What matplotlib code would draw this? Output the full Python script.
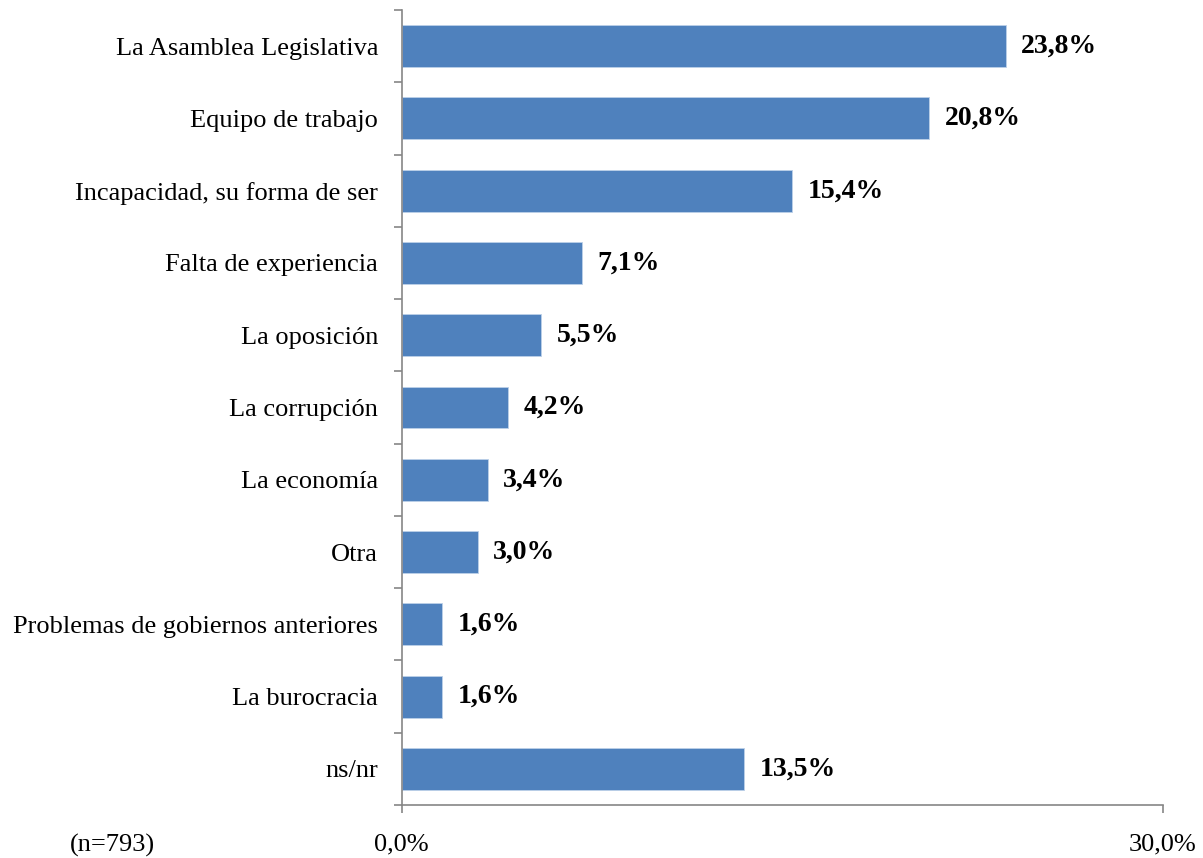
import matplotlib.pyplot as plt
import numpy as np

plt.rcParams["font.family"] = ["Liberation Serif", "DejaVu Serif"]

categories = [
    "La Asamblea Legislativa",
    "Equipo de trabajo",
    "Incapacidad, su forma de ser",
    "Falta de experiencia",
    "La oposición",
    "La corrupción",
    "La economía",
    "Otra",
    "Problemas de gobiernos anteriores",
    "La burocracia",
    "ns/nr",
]
values = [23.8, 20.8, 15.4, 7.1, 5.5, 4.2, 3.4, 3.0, 1.6, 1.6, 13.5]
x_ticks = [0, 30]
x_tick_labels = ["0,0%", "30,0%"]
note = "(n=793)"

bar_color = "#4F81BD"
axis_color = "#868686"

fig = plt.figure(figsize=(12.03, 8.58), dpi=100)
ax = fig.add_axes([0.334, 0.0618, 0.6326, 0.9265])

pos = np.arange(len(categories))
ax.barh(pos, values, height=0.58, color=bar_color, edgecolor="#BCD0E8", linewidth=0.6)

for p, v in zip(pos, values):
    ax.text(v + 0.6, p, f"{v:.1f}%".replace(".", ","), va="center", ha="left",
            fontsize=20, fontweight="bold")

ax.set_xlim(0, 30)
ax.set_ylim(len(categories) - 0.5, -0.5)

ax.set_yticks(pos)
ax.set_yticklabels(categories, fontsize=19)
ax.set_yticks(np.arange(-0.5, len(categories)), minor=True)
ax.tick_params(axis="y", which="major", length=0, pad=17)
ax.tick_params(axis="y", which="minor", length=5.5, color=axis_color, width=1.2, direction="out")

ax.set_xticks(x_ticks)
ax.set_xticklabels(x_tick_labels, fontsize=19)
ax.tick_params(axis="x", which="major", length=5.5, color=axis_color, width=1.2, direction="out", pad=15)

for side in ("top", "right"):
    ax.spines[side].set_visible(False)
for side in ("left", "bottom"):
    ax.spines[side].set_color(axis_color)
    ax.spines[side].set_linewidth(1.2)

fig.text(112 / 1203, 1 - 845 / 858, note, fontsize=19, ha="center", va="center")

fig.savefig("out.png", dpi=100)
